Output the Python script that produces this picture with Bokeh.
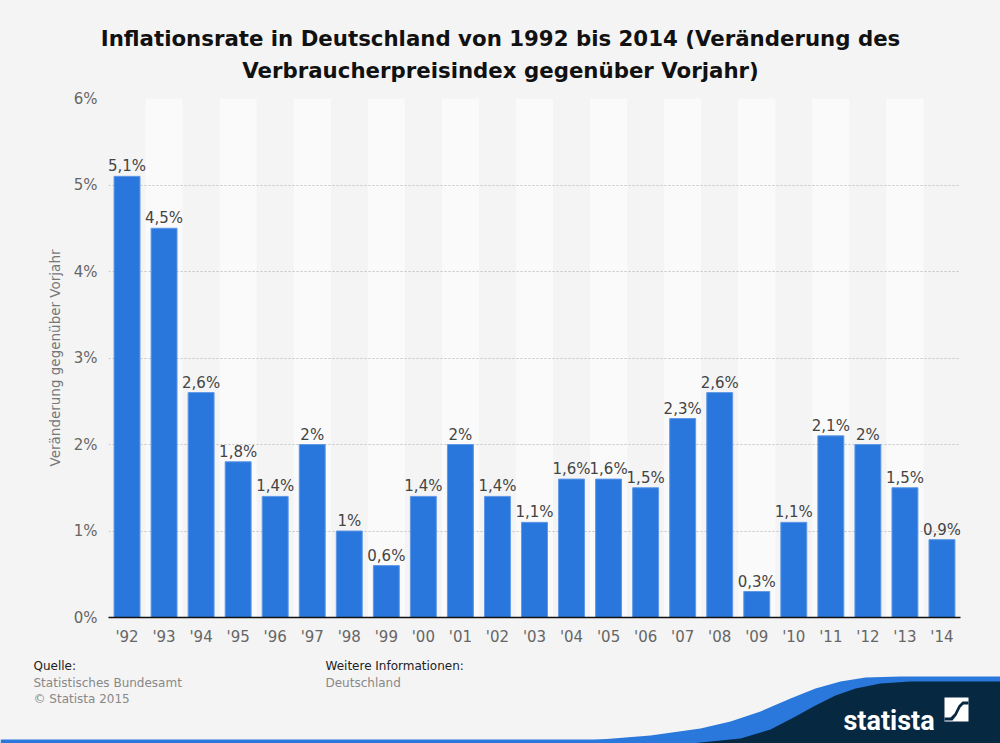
from bokeh.plotting import figure
from bokeh.layouts import column
from bokeh.models import FactorRange, Range1d, ColumnDataSource, FixedTicker
from bokeh.embed import file_html
from bokeh.resources import INLINE
from bokeh.core.properties import value

# ---- data ----
years = ["'92", "'93", "'94", "'95", "'96", "'97", "'98", "'99", "'00", "'01", "'02", "'03",
         "'04", "'05", "'06", "'07", "'08", "'09", "'10", "'11", "'12", "'13", "'14"]
rates = [5.1, 4.5, 2.6, 1.8, 1.4, 2.0, 1.0, 0.6, 1.4, 2.0, 1.4, 1.1,
         1.6, 1.6, 1.5, 2.3, 2.6, 0.3, 1.1, 2.1, 2.0, 1.5, 0.9]
rate_labels = ["5,1%", "4,5%", "2,6%", "1,8%", "1,4%", "2%", "1%", "0,6%", "1,4%", "2%", "1,4%", "1,1%",
               "1,6%", "1,6%", "1,5%", "2,3%", "2,6%", "0,3%", "1,1%", "2,1%", "2%", "1,5%", "0,9%"]
y_ticks = [0, 1, 2, 3, 4, 5, 6]
y_tick_labels = ["0%", "1%", "2%", "3%", "4%", "5%", "6%"]

title_lines = ["Inflationsrate in Deutschland von 1992 bis 2014 (Veränderung des",
               "Verbraucherpreisindex gegenüber Vorjahr)"]
y_title = "Veränderung gegenüber Vorjahr"
source_head = "Quelle:"
source_lines = ["Statistisches Bundesamt", "© Statista 2015"]
info_head = "Weitere Informationen:"
info_lines = ["Deutschland"]

FONT = "DejaVu Sans"
BG = "#f4f4f4"
W = 1000
TOP_H = 88          # title strip: canvas y 0..88
MAIN_TOP, MAIN_BOT = 88, 655
FOOT_TOP, FOOT_BOT = 655, 743


def deco_fig(y0, y1):
    f = figure(width=W, height=y1 - y0, x_range=Range1d(0, W), y_range=Range1d(y1, y0),
               output_backend="svg", toolbar_location=None, min_border=0, frame_align=False,
               background_fill_color=BG, border_fill_color=BG, outline_line_color=None)
    f.axis.visible = False
    f.grid.grid_line_color = None
    return f


# ---------- title strip ----------
t = deco_fig(0, TOP_H)
t.text(x=[500, 500], y=[38, 70], text=title_lines, text_align="center", text_baseline="middle",
       text_font=value(FONT), text_font_size="21.3px", text_font_style="bold", text_color="#111111")

# ---------- main chart ----------
p = figure(x_range=FactorRange(*years, range_padding=0), y_range=Range1d(0, 6),
           width=W, height=MAIN_BOT - MAIN_TOP, output_backend="svg", toolbar_location=None,
           min_border_left=108, min_border_right=40, min_border_top=98 - MAIN_TOP,
           min_border_bottom=MAIN_BOT - 617, frame_align=False,
           background_fill_color=BG, border_fill_color=BG, outline_line_color=None)

stripe_src = ColumnDataSource(dict(x=years[1::2], top=[y_ticks[-1]] * len(years[1::2])))
p.vbar(x="x", top="top", bottom=0, width=1.0, source=stripe_src,
       fill_color="#fafafa", line_color=None, level="image")

src = ColumnDataSource(dict(year=years, rate=rates, label=rate_labels))
p.vbar(x="year", top="rate", width=0.7, source=src,
       fill_color="#2977dd", line_color="#5f98e6", line_width=1)
p.text(x="year", y="rate", text="label", source=src, y_offset=-1,
       text_align="center", text_baseline="bottom",
       text_font=value(FONT), text_font_size="15px", text_color="#444444")

p.yaxis.ticker = FixedTicker(ticks=y_ticks)
p.yaxis.major_label_overrides = {tk: lb for tk, lb in zip(y_ticks, y_tick_labels)}
p.yaxis.axis_line_color = None
p.yaxis.major_tick_line_color = None
p.yaxis.minor_tick_line_color = None
p.yaxis.major_label_text_font = FONT
p.yaxis.major_label_text_font_size = "15px"
p.yaxis.major_label_text_color = "#666666"
p.yaxis.major_label_standoff = 5
p.yaxis.axis_label = y_title
p.yaxis.axis_label_text_font = FONT
p.yaxis.axis_label_text_font_style = "normal"
p.yaxis.axis_label_text_font_size = "13.5px"
p.yaxis.axis_label_text_color = "#777777"
p.yaxis.axis_label_standoff = 8

p.xaxis.axis_line_color = "#111111"
p.xaxis.axis_line_width = 1.5
p.xaxis.major_tick_line_color = None
p.xaxis.minor_tick_line_color = None
p.xaxis.major_label_text_font = FONT
p.xaxis.major_label_text_font_size = "15px"
p.xaxis.major_label_text_color = "#666666"
p.xaxis.major_label_standoff = 4

p.xgrid.grid_line_color = None
p.ygrid.grid_line_color = "#c4c4c4"
p.ygrid.grid_line_dash = "2 2"
p.ygrid.grid_line_width = 1

# ---------- footer ----------
f = deco_fig(FOOT_TOP, FOOT_BOT)
f.text(x=[33, 325], y=[665, 665], text=[source_head, info_head], text_baseline="middle",
       text_font=value(FONT), text_font_size="12px", text_color="#222222")
f.text(x=[33, 33, 325], y=[682, 698, 682], text=source_lines + info_lines, text_baseline="middle",
       text_font=value(FONT), text_font_size="12px", text_color="#888888")

BLUE = "#2a78dc"
NAVY = "#062841"
f.quad(left=0, right=W, top=739, bottom=743, fill_color=BLUE, line_color=None)
blue_edge = [(540, 743), (600, 739), (650, 735), (700, 728), (730, 721), (760, 711), (790, 698),
             (815, 688), (840, 681), (865, 677), (900, 676), (1000, 676), (1000, 743)]
navy_edge = [(690, 743), (740, 738), (770, 729), (795, 716), (815, 705), (835, 695), (855, 688),
             (880, 683), (910, 681), (1000, 681), (1000, 743)]
for pts, col in ((blue_edge, BLUE), (navy_edge, NAVY)):
    f.patch(x=[a for a, _ in pts], y=[b for _, b in pts], fill_color=col, line_color=None)

f.text(x=[843], y=[720], text=["statista"], text_baseline="alphabetic",
       text_font=value("Roboto"), text_font_size="27px",
       text_font_style="bold", text_color="#ffffff")
f.quad(left=944, right=968, top=697, bottom=721, fill_color="#ffffff", line_color=None)
icon = [(944, 717), (950, 717), (954, 713), (958, 705), (962, 701), (968, 701), (968, 704),
        (963, 704), (960, 707), (956, 715), (952, 720), (944, 720)]
f.patch(x=[a for a, _ in icon], y=[b for _, b in icon], fill_color=NAVY, line_color=None)

layout = column(t, p, f, spacing=0, styles={"background-color": BG})
open("out.html", "w").write(file_html(layout, INLINE))
